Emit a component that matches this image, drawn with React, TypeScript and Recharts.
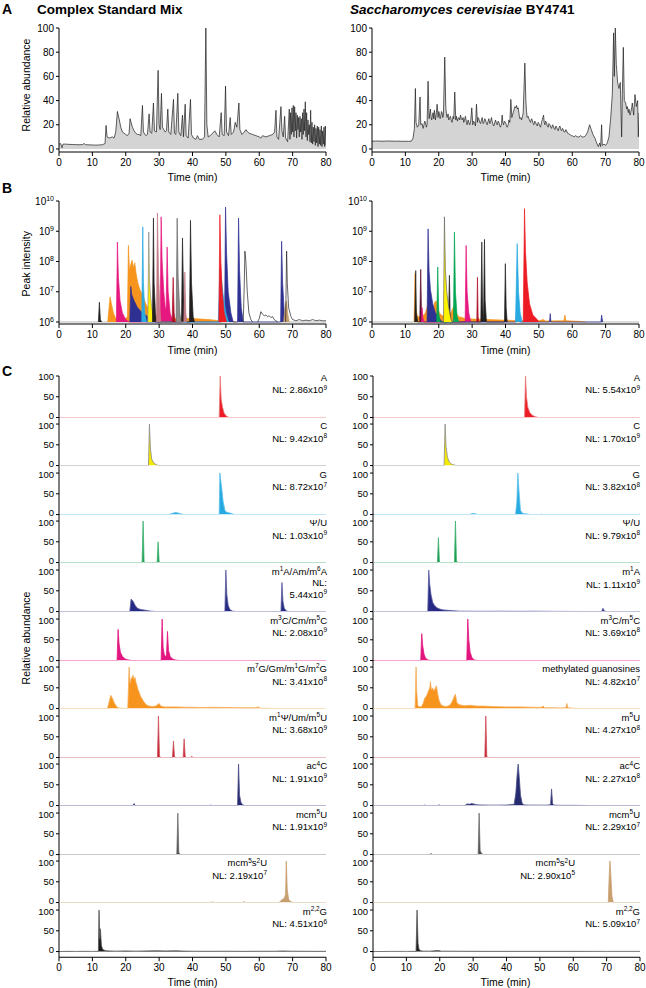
import React from 'react';
import { AreaChart, Area, XAxis, YAxis } from 'recharts';

type P = [number, number][];

// ---------------- Panel A : total ion chromatograms (relative abundance) ----------------
const aLeft: P = [[0,4],[0.5,4.5],[0.9,1],[1.2,4],[2,4],[3,3.8],[4,3.7],[5,3.6],[6,3.5],[7,3.6],[7.5,4.5],[8,3.5],[9,3.4],[10,3.3],[11,3.2],[12,3.3],[13,3.5],[13.8,4.5],[14.1,19.5],[14.4,10],[15,9],[15.5,9.5],[16,10],[16.5,9],[17,14],[17.5,31],[18,25],[18.5,18],[19,14],[19.5,13],[20,12],[20.5,11],[21,13],[21.3,25],[21.6,22],[22,18],[22.5,15],[23,13],[23.5,12],[24,12],[24.5,11],[25,36],[25.3,14],[26,11],[26.5,12],[27,29],[27.3,14],[27.8,13],[28.3,38],[28.6,15],[29.2,14],[29.7,65],[30,20],[30.3,16],[30.7,46],[31,18],[31.8,14],[32.2,15],[32.6,33],[32.9,14],[33.5,12],[34.3,41],[34.6,13],[35,12],[35.6,46],[35.9,14],[36.5,11],[37,28],[37.3,10],[37.8,37],[38.1,11],[38.7,9],[39.4,41],[39.7,12],[40.3,9],[41,8],[41.5,11],[42,8],[43,8],[43.6,10],[44,100],[44.3,20],[44.7,10],[45.3,11],[46,13],[46.7,15],[47.3,12],[48,10],[48.6,30],[48.9,12],[49.5,11],[49.9,52],[50.2,14],[50.8,11],[51.3,26],[51.6,12],[52.3,14],[52.8,22],[53.3,18],[53.9,38],[54.2,16],[54.8,12],[55.5,14],[56,16],[56.5,14],[57,13],[58,12],[59,11],[60,10],[60.5,9],[61,11],[62,10],[63,11],[64,12],[64.6,14],[65,32],[65.3,10],[65.8,8],[66.5,35],[66.8,15],[67.2,10],[67.6,27],[67.9,9],[68.5,6],[69,33],[69.2,8],[69.4,30],[69.6,12],[69.8,34],[70,14],[70.2,36],[70.4,10],[70.6,35],[70.8,15],[71,30],[71.2,9],[71.4,28],[71.6,16],[71.8,26],[72,10],[72.2,27],[72.4,14],[72.6,25],[72.8,8],[73,30],[73.2,12],[73.4,33],[73.6,15],[73.8,39],[74,10],[74.2,30],[74.4,7],[74.6,24],[74.8,12],[75,20],[75.2,6],[75.4,32],[75.6,5],[75.8,22],[76,4],[76.2,18],[76.4,6],[76.6,20],[76.8,3],[77,17],[77.2,5],[77.4,19],[77.6,2],[77.8,18],[78,4],[78.2,16],[78.4,3],[78.6,19],[78.8,2],[79,15],[79.2,4],[79.4,18],[79.6,2],[79.8,19],[80,3]];

const aRight: P = [[0,6.5],[1,6.5],[2,6.6],[3,6.4],[4,6.5],[5,6.6],[6,6.5],[7,6.4],[8,6.5],[9,6.3],[10,6.4],[11,6.3],[11.8,6.5],[12.3,9],[12.7,17],[13,50],[13.2,22],[13.6,18],[14,20],[14.4,43],[14.6,20],[15,21],[15.3,17],[15.5,19],[15.8,23],[16,22],[16.3,18],[16.5,20],[16.8,56],[17.1,25],[17.3,29],[17.5,33],[17.7,26],[17.9,24],[18.1,28],[18.3,30],[18.5,25],[18.7,32],[19,24],[19.3,30],[19.5,37],[19.8,26],[20,31],[20.2,29],[20.4,25],[20.6,27],[20.8,31],[21,30],[21.2,26],[21.4,28],[21.8,76],[22.1,35],[22.3,29],[22.5,26],[22.8,29],[23,24],[23.3,26],[23.5,27],[23.8,23],[24,22],[24.3,27],[24.5,25],[24.8,47],[25.1,24],[25.3,27],[25.6,23],[25.8,25],[26,26],[26.3,24],[26.5,28],[26.8,25],[27,24],[27.3,26],[27.5,22],[27.8,25],[28,27],[28.3,22],[28.5,20],[28.8,24],[29,22],[29.3,20],[29.6,24],[29.9,34],[30.2,20],[30.4,23],[30.7,22],[31,19],[31.3,37],[31.6,22],[31.8,26],[32,25],[32.3,22],[32.5,21],[32.8,24],[33,26],[33.3,21],[33.5,22],[33.8,25],[34,24],[34.3,21],[34.5,20],[34.8,23],[35,25],[35.3,21],[35.5,22],[35.8,26],[36,23],[36.3,20],[36.5,19],[36.8,22],[37,24],[37.3,21],[37.5,20],[37.8,23],[38,22],[38.3,19],[38.5,18],[38.8,21],[39,28],[39.2,22],[39.4,20],[39.7,23],[40,22],[40.3,19],[40.5,18],[40.8,20],[41,24],[41.3,22],[41.6,41],[41.9,26],[42.1,28],[42.3,30],[42.6,33],[42.8,35],[43.1,34],[43.3,36],[43.6,33],[43.8,34],[44.1,28],[44.3,25],[44.6,26],[44.8,24],[45.1,27],[45.3,30],[45.8,71],[46.1,40],[46.3,31],[46.5,26],[46.8,27],[47,25],[47.3,23],[47.5,22],[47.8,25],[48,24],[48.3,21],[48.5,20],[48.8,23],[49,22],[49.3,20],[49.5,19],[49.8,22],[50,21],[50.3,19],[50.5,18],[50.8,22],[51,24],[51.4,28],[51.6,22],[51.8,20],[52,23],[52.3,22],[52.5,19],[52.8,18],[53,21],[53.3,20],[53.6,18],[53.8,17],[54.1,20],[54.3,19],[54.6,17],[54.8,16],[55.1,19],[55.3,18],[55.6,16],[55.8,15],[56.1,18],[56.3,19],[56.6,16],[56.8,15],[57.1,17],[57.3,16],[57.6,14],[57.8,14],[58.1,16],[58.3,15],[58.6,13],[58.8,13],[59.1,12],[59.3,12],[59.7,11],[60,11],[60.5,10],[61,11],[61.5,10],[62,10],[62.5,11],[63,10],[63.5,10],[64,11],[64.6,14],[65.2,20],[65.7,16],[66.2,12],[66.8,9],[67.3,5],[67.8,2],[68.2,5],[68.5,2],[68.8,20],[69,3],[69.5,4],[70,3],[70.5,5],[71,10],[71.5,25],[72,45],[72.4,96],[72.6,60],[72.9,100],[73.2,70],[73.6,55],[74,50],[74.4,55],[74.8,10],[75,45],[75.3,84],[75.6,40],[76,38],[76.3,33],[76.5,35],[76.8,30],[77,33],[77.3,28],[77.5,30],[77.8,34],[78,38],[78.4,28],[78.8,45],[79.2,35],[79.6,40],[79.8,10],[80,30]];

// ---------------- Panel B : extracted peak intensities (log) ----------------
const bL_base: P = [[0,1e6],[80,1e6]];
const bL_black1: P = [[11.8,1e6],[12.1,4.5e6],[12.4,1.2e6],[12.8,1e6]];
const bL_orange: P = [[14.6,1e6],[15,3e6],[15.3,6.7e6],[15.7,4e6],[16.3,2e6],[17,1.3e6],[19.5,1.2e6],[20.5,1.5e6],[20.8,3.4e8],[21.1,5e7],[21.5,8e7],[21.9,1.1e8],[22.3,6e7],[22.7,9e7],[23.1,4e7],[23.6,2e7],[24.2,1.2e7],[25,8e6],[26,4e6],[27,2.5e6],[28,1.8e6],[30,1.5e6],[35,1.3e6],[40,1.3e6],[45,1.2e6],[48,1.1e6],[52,1.05e6],[53,1e6]];
const bL_magenta: P = [[17.2,1e6],[17.5,4.4e8],[17.8,3e7],[18.3,5e6],[19,2e6],[20,1.2e6],[21,1e6],[30.3,1e6],[30.6,3e9],[30.9,1e8],[31.4,1e7],[31.9,2.5e6],[32.1,3e6],[32.4,3e8],[32.7,1e7],[33.3,2e6],[34,1.1e6],[35,1e6]];
const bL_navy: P = [[21.2,1e6],[21.5,1.5e7],[21.8,8e6],[22.5,5e6],[23.5,3e6],[25,2e6],[27,1.4e6],[29,1e6],[48.6,1e6],[48.8,3e6],[49.1,1.5e6],[49.6,1e6],[49.9,6.3e9],[50.2,2e8],[50.7,1e7],[51.5,2e6],[52.2,1e6],[53.5,1e6],[53.8,2.7e9],[54.1,5e7],[54.6,3e6],[55.2,1e6],[66.4,1e6],[66.7,4.7e8],[67,2e7],[67.5,2e6],[68,1e6]];
const bL_sky: P = [[24.8,1e6],[25.1,1.4e9],[25.3,2e7],[25.7,2e6],[26.2,1e6],[47.7,1e6],[48,1e7],[48.2,6e7],[48.6,3e7],[49.2,8e6],[50,2e6],[50.8,1e6]];
const bL_yellow: P = [[26.6,1e6],[26.9,9.4e8],[27.1,3e7],[27.4,8e6],[27.8,3e6],[28.3,1.5e6],[29,1e6]];
const bL_black: P = [[28,1e6],[28.3,2.7e9],[28.5,2e7],[28.9,2e6],[29.3,1e6],[36.7,1e6],[37,6e8],[37.3,1e7],[37.8,1.5e6],[38.2,1e6],[39.1,1e6],[39.4,2.3e9],[39.7,2e7],[40.2,1.5e6],[40.6,1e6]];
const bL_gray: P = [[35.1,1e6],[35.4,2.7e9],[35.7,3e7],[36.2,2e6],[36.6,1e6]];
const bL_rose: P = [[29.2,1e6],[29.5,4e9],[29.8,5e7],[30.2,3e6],[30.5,1e6],[37.4,1e6],[37.7,4.5e7],[38,2e6],[38.3,1e6]];
const bL_darkred: P = [[33.9,1e6],[34.2,3e7],[34.5,2e6],[34.8,1e6]];
const bL_red: P = [[47.9,1e6],[48.2,3.5e9],[48.5,1e8],[48.9,1e7],[49.5,2e6],[50.2,1e6]];
const bL_outline: P = [[55.2,1e6],[55.5,1.5e7],[55.7,2.2e8],[56,1e8],[56.4,1e7],[56.9,2e6],[57.5,1.2e6],[58,1e6]];
const bL_noise: P = [[59.5,1e6],[60,1.3e6],[60.5,2.2e6],[61,1.8e6],[61.5,1.6e6],[62,1.7e6],[62.5,1.5e6],[63,1.6e6],[63.5,1.4e6],[64,1.5e6],[64.5,1.2e6],[65,1.1e6],[65.5,1e6]];
const bL_tan: P = [[67.3,1e6],[67.6,2e6],[67.9,4e6],[68.2,5e6],[68.5,2e6],[69,1e6]];
const bL_black2: P = [[67.9,1e6],[68.2,2.2e8],[68.4,2e7],[68.8,3e6],[69.5,1.5e6],[70,1.2e6],[71,1.1e6],[72,1.2e6],[73,1.1e6],[74,1.15e6],[75,1.1e6],[76,1.2e6],[77,1.1e6],[78,1.15e6],[79,1.1e6],[80,1.1e6]];

const bR_base: P = [[0,1e6],[80,1e6]];
const bR_orange: P = [[12.6,1e6],[12.9,4e7],[13.1,3e6],[13.6,1.5e6],[15,1.5e6],[16,2e6],[16.5,3e6],[17,5e6],[17.3,4e6],[17.8,3.5e6],[18.3,2.5e6],[18.8,4.5e6],[19.2,5e6],[19.6,3e6],[20.2,2e6],[21,1.6e6],[22,1.5e6],[23.5,1.8e6],[24.2,2.8e6],[24.7,3.5e6],[25.2,2e6],[26,1.5e6],[28,1.3e6],[30,1.25e6],[35,1.2e6],[40,1.15e6],[45,1.1e6],[50,1.1e6],[51.3,1.2e6],[52,1.08e6],[57.5,1.1e6],[57.8,1.7e6],[58.1,1.1e6],[62,1.05e6],[64,1e6]];
const bR_black: P = [[12.8,1e6],[13.1,5e7],[13.3,2e6],[13.7,1e6],[22.9,1e6],[23.2,3.5e7],[23.4,2e6],[23.7,1e6],[32.6,1e6],[32.9,4.4e8],[33.1,5e6],[33.4,1e6],[33.7,5.4e8],[33.9,5e6],[34.3,1e6],[39.7,1e6],[39.95,8.5e7],[40.2,3e6],[40.5,1e6]];
const bR_maroon: P = [[14.3,1e6],[14.6,5.5e7],[14.8,3e6],[15.2,1e6]];
const bR_magenta: P = [[14.8,1e6],[15,3e6],[15.2,1.5e6],[15.6,1e6],[27.9,1e6],[28.2,3.4e8],[28.5,1e7],[29,2e6],[29.6,1e6]];
const bR_navy: P = [[16.5,1e6],[16.8,1.2e9],[17.1,5e7],[17.5,1.2e7],[18.2,4e6],[19,2e6],[20,1.4e6],[21,1e6],[43.1,1e6],[43.5,5e6],[43.9,2e6],[44.3,1e6],[53.2,1e6],[53.4,1.9e6],[53.6,1e6],[68.6,1e6],[68.8,1.7e6],[69.1,1e6]];
const bR_green: P = [[19.4,1e6],[19.7,6.6e7],[20,2e6],[20.4,1e6],[24.4,1e6],[24.7,9.4e8],[25,1e7],[25.5,1.5e6],[26,1e6]];
const bR_yellow: P = [[21.4,1e6],[21.7,3e9],[22,5e7],[22.4,1e7],[23,3e6],[23.6,1.3e6],[24,1e6]];
const bR_darkred: P = [[31.4,1e6],[31.6,3e7],[31.8,1.5e6],[32,1e6]];
const bR_sky: P = [[43,1e6],[43.5,3.9e8],[43.9,1e7],[44.4,2e6],[45,1e6]];
const bR_red: P = [[45.3,1e6],[45.7,5.6e9],[46,2e8],[46.5,2e7],[47.2,4e6],[48.2,1.7e6],[49.5,1.2e6],[50,1e6]];

// ---------------- Panel C : extracted ion chromatograms (relative abundance) ----------------
const cL_A: P = [[0,0],[48,0],[48.3,100],[48.6,45],[49,25],[49.5,10],[50.2,3],[51,0],[80,0]];
const cL_C: P = [[0,0],[26.8,0],[27.1,100],[27.4,40],[27.8,15],[28.5,5],[29.5,1],[30,0],[80,0]];
const cL_G: P = [[0,0],[33,0],[34,3],[35,5],[36,3],[37,0.5],[38,0],[48,0],[48.2,100],[48.5,80],[48.8,60],[49.2,30],[49.8,8],[50.5,5],[51.5,3],[52.5,0],[80,0]];
const cL_PsiU: P = [[0,0],[24.9,0],[25.2,100],[25.5,2],[25.8,0],[29.4,0],[29.7,50],[30,2],[30.3,0],[80,0]];
const cL_m1A: P = [[0,0],[21.2,0],[21.6,30],[22.2,25],[22.8,15],[23.5,8],[24.5,5],[26,3],[27.5,1],[29,0],[49.7,0],[50,100],[50.3,40],[50.7,15],[51.2,5],[52,1],[53,0],[66.5,0],[66.8,70],[67.1,25],[67.5,8],[68.2,1],[69,0],[80,0]];
const cL_m3C: P = [[0,0],[17.4,0],[17.7,75],[18,40],[18.4,20],[19,10],[19.8,4],[21,1],[22,0],[30.6,0],[30.9,100],[31.2,30],[31.6,12],[32.2,10],[32.5,70],[32.8,25],[33.3,10],[34,4],[35,1],[36,0],[80,0]];
const cL_m7G: P = [[0,0],[14.5,0],[15,15],[15.5,32],[16,25],[16.5,15],[17,8],[17.5,3],[18,1],[20.6,0],[21,100],[21.3,60],[21.6,72],[21.9,75],[22.2,80],[22.5,70],[22.8,75],[23.1,62],[23.4,55],[23.7,45],[24,40],[24.4,30],[24.8,25],[25.3,18],[25.8,12],[26.4,8],[27,6],[28,5],[29,6],[29.6,10],[30,12],[30.5,6],[31.5,4],[33,4],[35,4],[38,3],[40,3],[43,2.5],[46,3],[50,2.5],[55,2],[59,2],[59.7,4],[60.2,1],[62,0.5],[65,0],[80,0]];
const cL_m1Psi: P = [[0,0],[29.5,0],[29.8,100],[30.1,5],[30.4,0],[34,0],[34.3,40],[34.6,3],[34.9,0],[37.2,0],[37.5,45],[37.8,3],[38.1,0],[39.5,0],[39.8,3],[40.1,0],[80,0]];
const cL_ac4C: P = [[0,0],[22.2,0],[22.5,5],[22.8,0],[45,0],[45.5,1],[46,0],[53.5,0],[53.8,100],[54.1,25],[54.5,8],[55,2],[55.6,0],[80,0]];
const cL_mcm5U: P = [[0,0],[35.3,0],[35.6,100],[35.9,5],[36.3,0],[80,0]];
const cL_mcm5s2U: P = [[0,0],[45.5,0],[46,1.5],[46.5,0],[55,0],[55.5,2],[56,0],[66,0],[66.5,5],[67,8],[67.5,10],[67.9,20],[68.1,100],[68.4,30],[68.8,8],[69.3,3],[70,0],[80,0]];
const cL_m22G: P = [[0,0],[3,0.5],[5,0.3],[8,0.6],[10,0.4],[11.8,0.5],[12,100],[12.2,30],[12.4,55],[12.7,15],[13.1,5],[14,2],[15,1.5],[17,1],[20,1.5],[23,1],[26,1.5],[29,1.8],[32,1.5],[35,1.8],[37,1.2],[40,0.8],[45,0.6],[50,0.8],[55,0.5],[60,0.7],[65,0.8],[67,1.5],[70,0.8],[75,0.6],[80,0.5]];

const cR_A: P = [[0,0],[45.4,0],[45.7,100],[46,50],[46.4,25],[47,12],[47.8,5],[48.7,2],[49.5,0],[80,0]];
const cR_C: P = [[0,0],[21.3,0],[21.6,100],[21.9,45],[22.3,20],[22.9,8],[23.6,3],[24.5,1],[25,0],[80,0]];
const cR_G: P = [[0,0],[29,0],[29.5,2],[30.5,2.5],[31.2,0],[42.7,0],[43.1,30],[43.4,100],[43.8,50],[44.2,10],[44.8,3],[45.5,2],[46.2,1.5],[47,0],[50,0],[50.5,1],[51,0],[80,0]];
const cR_PsiU: P = [[0,0],[19.3,0],[19.6,60],[19.9,3],[20.2,0],[24.4,0],[24.7,100],[25,5],[25.3,0],[80,0]];
const cR_m1A: P = [[0,0],[16.4,0],[16.7,100],[17,65],[17.4,40],[17.9,22],[18.5,14],[19.2,9],[20,6],[21,4],[22.5,3],[24,2],[26,1],[28,0.8],[33,0.6],[38,0.8],[45,0.5],[48,0.8],[55,0.4],[60,0.2],[68.5,0],[68.9,8],[69.3,2],[69.8,0],[80,0]];
const cR_m3C: P = [[0,0],[14.3,0],[14.6,65],[14.9,35],[15.3,15],[15.8,5],[16.6,1],[17.5,0],[28.1,0],[28.4,100],[28.7,50],[29.1,20],[29.7,6],[30.5,1],[31.5,0],[80,0]];
const cR_metG: P = [[0,0],[12.6,0],[12.9,100],[13.1,40],[13.4,8],[13.8,4],[14.5,5],[15,12],[15.5,25],[16,30],[16.5,40],[17,50],[17.2,65],[17.5,45],[17.9,50],[18.2,42],[18.6,48],[19,55],[19.4,35],[19.8,20],[20.3,10],[21,6],[22,5],[23,8],[23.6,15],[24,22],[24.4,30],[24.7,35],[25.1,15],[25.7,10],[26.5,8],[27.5,7],[29,8],[31,6],[33,6],[36,5],[40,4],[44,4],[48,3],[50.5,3],[51,6],[51.4,2],[54,2],[56,1.5],[57.8,2],[58.1,12],[58.4,2],[60,0.5],[62,0],[80,0]];
const cR_m5U: P = [[0,0],[33.5,0],[33.8,100],[34.1,3],[34.4,0],[80,0]];
const cR_ac4C: P = [[0,0],[15,0],[15.5,1],[16,0],[19.5,0],[19.8,2],[20.1,0],[27.5,0],[28,3],[28.5,4],[29,3],[29.5,5],[30,4],[30.5,3],[31,2],[32,1.5],[33,1.2],[35,1],[38,1],[40,1.2],[42.3,3],[42.8,30],[43.2,75],[43.5,100],[43.8,70],[44.2,25],[44.7,5],[45.3,1.5],[47,1],[50,1],[52,1],[53.2,2],[53.5,40],[53.8,5],[54.2,1],[56,0.5],[60,0.5],[65,0],[80,0]];
const cR_mcm5U: P = [[0,0],[17.2,0],[17.4,3],[17.6,0],[31.5,0],[31.8,100],[32.1,10],[32.5,3],[33,0],[80,0]];
const cR_mcm5s2U: P = [[0,0],[70.5,0],[70.8,70],[71,100],[71.3,60],[71.6,15],[72,0],[80,0]];
const cR_m22G: P = [[0,0],[5,0.3],[10,0.4],[12.9,0.5],[13.2,100],[13.5,20],[13.8,5],[14.3,2],[15,1],[17,1],[18.5,2],[19.5,2.5],[20.5,1],[25,0.8],[30,0.6],[40,0.5],[50,0.5],[60,0.5],[70,0.4],[80,0.4]];

// ---------------- Labels ----------------
const X_TICKS = [0, 10, 20, 30, 40, 50, 60, 70, 80];
const A_TICKS = [0, 20, 40, 60, 80, 100];
const B_TICKS = [1e6, 1e7, 1e8, 1e9, 1e10];
const C_TICKS = [0, 50, 100];

const namesL = ['A', 'C', 'G', 'Ψ/U', 'm^{1}A/Am/m^{6}A', 'm^{3}C/Cm/m^{5}C', 'm^{7}G/Gm/m^{1}G/m^{2}G', 'm^{1}Ψ/Um/m^{5}U', 'ac^{4}C', 'mcm^{5}U', 'mcm^{5}s^{2}U', 'm^{2,2}G'];
const nlL = ['2.86x10^{9}', '9.42x10^{8}', '8.72x10^{7}', '1.03x10^{9}', '5.44x10^{9}', '2.08x10^{9}', '3.41x10^{8}', '3.68x10^{9}', '1.91x10^{9}', '1.91x10^{9}', '2.19x10^{7}', '4.51x10^{6}'];
const namesR = ['A', 'C', 'G', 'Ψ/U', 'm^{1}A', 'm^{3}C/m^{5}C', 'methylated guanosines', 'm^{5}U', 'ac^{4}C', 'mcm^{5}U', 'mcm^{5}s^{2}U', 'm^{2,2}G'];
const nlR = ['5.54x10^{9}', '1.70x10^{9}', '3.82x10^{8}', '9.79x10^{8}', '1.11x10^{9}', '3.69x10^{8}', '4.82x10^{7}', '4.27x10^{8}', '2.27x10^{8}', '2.29x10^{7}', '2.90x10^{5}', '5.09x10^{7}'];

const cLeft = [cL_A, cL_C, cL_G, cL_PsiU, cL_m1A, cL_m3C, cL_m7G, cL_m1Psi, cL_ac4C, cL_mcm5U, cL_mcm5s2U, cL_m22G];
const cRight = [cR_A, cR_C, cR_G, cR_PsiU, cR_m1A, cR_m3C, cR_metG, cR_m5U, cR_ac4C, cR_mcm5U, cR_mcm5s2U, cR_m22G];

// styles
const ROW_FILL = ['#ec1c24', '#f5e900', '#27aae1', '#1a9b4b', '#262a84', '#e3157f', '#f7941d', '#c1202f', '#262a6e', '#4a4a4a', '#c8a070', '#1a1a1a'];
const ROW_STROKE = ['#e87a7c', '#8a8a8a', '#5bc0eb', '#3cb371', '#5a5d9e', '#e3157f', '#f5b060', '#d0505a', '#4a4e88', '#707070', '#c8a070', '#555555'];

const C = {
  orange: '#f7941d', magenta: '#e6177f', navy: '#2e3192', sky: '#29abe2', yellow: '#fff200',
  green: '#00a651', red: '#ed1c24', darkred: '#b0102a', rose: '#c27a85', gray: '#8c8c8c',
  black: '#231f20', tan: '#c69c6d', maroon: '#5a1030',
};

const bLeftSeries = [
  { d: bL_base, fill: 'none', stroke: '#9a9a9a' },
  { d: bL_orange, fill: C.orange, stroke: C.orange },
  { d: bL_black1, fill: C.black, stroke: C.black },
  { d: bL_magenta, fill: C.magenta, stroke: C.magenta },
  { d: bL_navy, fill: C.navy, stroke: C.navy },
  { d: bL_sky, fill: C.sky, stroke: C.sky },
  { d: bL_yellow, fill: C.yellow, stroke: '#8a8a8a' },
  { d: bL_black, fill: C.black, stroke: C.black },
  { d: bL_gray, fill: C.gray, stroke: '#6a6a6a' },
  { d: bL_rose, fill: C.rose, stroke: C.rose },
  { d: bL_darkred, fill: C.darkred, stroke: C.darkred },
  { d: bL_red, fill: C.red, stroke: C.red },
  { d: bL_outline, fill: 'none', stroke: C.black },
  { d: bL_noise, fill: 'none', stroke: C.black },
  { d: bL_tan, fill: C.tan, stroke: C.tan },
  { d: bL_black2, fill: 'none', stroke: C.black },
];
const bRightSeries = [
  { d: bR_base, fill: 'none', stroke: '#9a9a9a' },
  { d: bR_orange, fill: C.orange, stroke: C.orange },
  { d: bR_black, fill: C.black, stroke: C.black },
  { d: bR_maroon, fill: C.maroon, stroke: C.maroon },
  { d: bR_magenta, fill: C.magenta, stroke: C.magenta },
  { d: bR_navy, fill: C.navy, stroke: C.navy },
  { d: bR_green, fill: C.green, stroke: C.green },
  { d: bR_yellow, fill: C.yellow, stroke: '#6a6a6a' },
  { d: bR_darkred, fill: C.darkred, stroke: C.darkred },
  { d: bR_sky, fill: C.sky, stroke: C.sky },
  { d: bR_red, fill: C.red, stroke: C.red },
];

const toPts = (a: P) => a.map(([t, v]) => ({ t, v }));

const FONT = '"Liberation Sans", Arial, Helvetica, sans-serif';
const AX = { stroke: '#000', strokeWidth: 1 };
const TICK = { fill: '#000', fontSize: 10, fontFamily: FONT };

function Rich({ x, y, s, size = 9.5, anchor = 'end' }: any) {
  const parts = s.split(/(\^\{[^}]*\})/).filter((p: string) => p.length);
  let prevSup = false;
  return (
    <text x={x} y={y} textAnchor={anchor} fontSize={size} fill="#000" fontFamily={FONT}>
      {parts.map((p: string, i: number) => {
        if (p.startsWith('^{')) {
          prevSup = true;
          return <tspan key={i} dy={-size * 0.38} fontSize={size * 0.68}>{p.slice(2, -1)}</tspan>;
        }
        const dy = prevSup ? size * 0.38 : 0;
        prevSup = false;
        return <tspan key={i} dy={dy}>{p}</tspan>;
      })}
    </text>
  );
}

const LogTick = (props: any) => {
  const { x, y, payload } = props;
  const e = Math.round(Math.log10(payload.value));
  return (
    <text x={x} y={y + 3.5} textAnchor="end" fontSize={10} fill="#000" fontFamily={FONT}>
      10<tspan dy={-4} fontSize={7}>{e}</tspan>
    </text>
  );
};

const makeCTick = (first: boolean) => (props: any) => {
  const { x, y, payload } = props;
  const v = payload.value;
  const off = v === 0 ? -2 : v === 100 && !first ? 1 : 0;
  return (
    <text x={x} y={y + off + 3.5} textAnchor="end" fontSize={9.5} fill="#000" fontFamily={FONT}>{v}</text>
  );
};

function PanelA({ plotLeft, data }: { plotLeft: number; data: P }) {
  return (
    <div style={{ position: 'absolute', left: plotLeft - 40, top: 20 }}>
      <AreaChart width={40 + 267 + 8} height={8 + 124 + 26} margin={{ top: 8, right: 8, bottom: 0, left: 0 }}>
        <XAxis type="number" dataKey="t" domain={[0, 80]} ticks={X_TICKS} interval={0} allowDataOverflow height={26}
          tickSize={4} tickMargin={3} axisLine={AX} tickLine={AX} tick={TICK} />
        <YAxis type="number" domain={[-2.5, 100]} ticks={A_TICKS} interval={0} allowDataOverflow width={40}
          tickSize={3} tickMargin={2} axisLine={AX} tickLine={AX} tick={TICK} />
        <Area data={toPts(data)} dataKey="v" type="linear" stroke="#1e1e1e" strokeWidth={0.7} fill="#d4d4d4"
          fillOpacity={1} dot={false} activeDot={false} isAnimationActive={false} />
      </AreaChart>
    </div>
  );
}

function PanelB({ plotLeft, series }: { plotLeft: number; series: any[] }) {
  return (
    <div style={{ position: 'absolute', left: plotLeft - 40, top: 193 }}>
      <AreaChart width={40 + 267 + 8} height={8 + 123 + 26} margin={{ top: 8, right: 8, bottom: 0, left: 0 }}>
        <XAxis type="number" dataKey="t" domain={[0, 80]} ticks={X_TICKS} interval={0} allowDataOverflow height={26}
          tickSize={4} tickMargin={3} axisLine={AX} tickLine={AX} tick={TICK} />
        <YAxis type="number" scale="log" domain={[859000, 1e10]} ticks={B_TICKS} interval={0} allowDataOverflow width={40}
          tickSize={3} tickMargin={2} axisLine={AX} tickLine={AX} tick={<LogTick />} />
        {series.map((s, i) => (
          <Area key={i} data={toPts(s.d)} dataKey="v" type="linear" baseValue={1e6} stroke={s.stroke} strokeWidth={0.7}
            fill={s.fill} fillOpacity={s.fill === 'none' ? 0 : 1} dot={false} activeDot={false} isAnimationActive={false} />
        ))}
      </AreaChart>
    </div>
  );
}

function CRow({ data, i, plotLeft }: { data: P; i: number; plotLeft: number }) {
  const last = i === 11;
  const baseline = 417.3 + i * 48.55;
  const plotTop = i === 0 ? baseline - 41.5 : baseline - 48.55;
  const plotBottom = last ? baseline + 5.7 : baseline;
  const u = 0.415;
  const yMax = (baseline - plotTop) / u;
  const yMin = -(plotBottom - baseline) / u;
  const mt = 7;
  const mb = last ? 0 : 7;
  const xh = last ? 26 : 0;
  const h = mt + (plotBottom - plotTop) + mb + xh;
  const CTick = makeCTick(i === 0);
  return (
    <div style={{ position: 'absolute', left: plotLeft - 40, top: plotTop - mt }}>
      <AreaChart width={40 + 267 + 8} height={h} margin={{ top: mt, right: 8, bottom: mb, left: 0 }}>
        <XAxis type="number" dataKey="t" domain={[0, 80]} ticks={X_TICKS} interval={0} allowDataOverflow hide={!last}
          height={xh} tickSize={4} tickMargin={3} axisLine={AX} tickLine={AX} tick={TICK} />
        <YAxis type="number" domain={[yMin, yMax]} ticks={C_TICKS} interval={0} allowDataOverflow width={40}
          tickSize={3} tickMargin={2} axisLine={AX} tickLine={AX} tick={<CTick />} />
        <Area data={toPts(data)} dataKey="v" type="linear" stroke={ROW_STROKE[i]} strokeWidth={0.8} fill={ROW_FILL[i]}
          fillOpacity={1} dot={false} activeDot={false} isAnimationActive={false} />
      </AreaChart>
    </div>
  );
}

function RowLabels({ names, nls, right, special }: { names: string[]; nls: string[]; right: number; special: boolean }) {
  return (
    <g>
      {names.map((n, i) => {
        const b = 417.3 + i * 48.55;
        const x = i === 10 ? (special ? 267 : 575) : right;
        if (special && i === 4) {
          return (
            <g key={i}>
              <Rich x={x} y={b - 37} s={n} />
              <Rich x={x} y={b - 25.2} s="NL:" />
              <Rich x={x} y={b - 13.4} s={nls[i]} />
            </g>
          );
        }
        return (
          <g key={i}>
            <Rich x={x} y={b - 36.5} s={n} />
            <Rich x={x} y={b - 24} s={'NL: ' + nls[i]} />
          </g>
        );
      })}
    </g>
  );
}

export default function App() {
  const t = (x: number, y: number, s: string) => (
    <text x={x} y={y} textAnchor="middle" fontSize={10.5} fill="#000" fontFamily={FONT}>{s}</text>
  );
  const ylab = (y: number, s: string) => (
    <text x={30} y={y} transform={`rotate(-90 30 ${y})`} textAnchor="middle" fontSize={10.5} fill="#000" fontFamily={FONT}>{s}</text>
  );
  return (
    <div style={{ position: 'absolute', left: 0, top: 0, width: 646, height: 988, background: '#fff', fontFamily: FONT, overflow: 'hidden' }}>
      <PanelA plotLeft={59} data={aLeft} />
      <PanelA plotLeft={372} data={aRight} />
      <PanelB plotLeft={59} series={bLeftSeries} />
      <PanelB plotLeft={372} series={bRightSeries} />
      {cLeft.map((d, i) => <CRow key={'l' + i} data={d} i={i} plotLeft={59} />)}
      {cRight.map((d, i) => <CRow key={'r' + i} data={d} i={i} plotLeft={373} />)}
      <svg width={646} height={988} style={{ position: 'absolute', left: 0, top: 0, pointerEvents: 'none' }}>
        <text x={2} y={14} fontSize={14} fontWeight="bold" fontFamily={FONT}>A</text>
        <text x={37} y={14} fontSize={13.5} fontWeight="bold" fontFamily={FONT}>Complex Standard Mix</text>
        <text x={350} y={14} fontSize={13.5} fontWeight="bold" fontFamily={FONT}>
          <tspan fontStyle="italic">Saccharomyces cerevisiae</tspan> BY4741
        </text>
        <text x={2} y={193} fontSize={14} fontWeight="bold" fontFamily={FONT}>B</text>
        <text x={2} y={375.5} fontSize={14} fontWeight="bold" fontFamily={FONT}>C</text>
        {ylab(85, 'Relative abundance')}
        {ylab(263.7, 'Peak intensity')}
        {ylab(638, 'Relative abundance')}
        {t(192.5, 181, 'Time (min)')}
        {t(505.5, 181, 'Time (min)')}
        {t(192.5, 353.5, 'Time (min)')}
        {t(505.5, 353.5, 'Time (min)')}
        {t(192.5, 985.5, 'Time (min)')}
        {t(505.5, 985.5, 'Time (min)')}
        <RowLabels names={namesL} nls={nlL} right={327} special={true} />
        <RowLabels names={namesR} nls={nlR} right={640} special={false} />
      </svg>
    </div>
  );
}
